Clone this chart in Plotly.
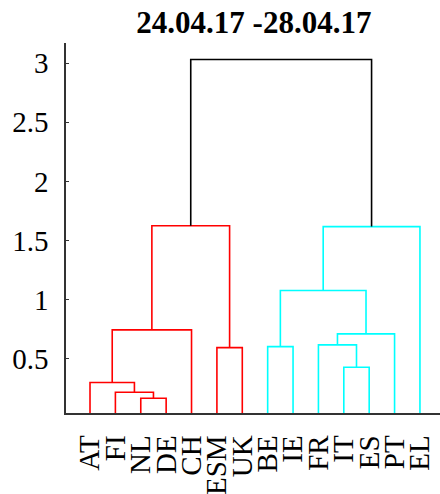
import plotly.graph_objects as go

# ---- data ----
labels = ["AT", "FI", "NL", "DE", "CH", "ESM", "UK", "BE", "IE", "FR", "IT", "ES", "PT", "EL"]
# merges: (left id, right id); leaves are 0..13, new clusters numbered 14, 15, ...
merge_left = [2, 1, 0, 16, 5, 17, 10, 7, 9, 22, 21, 24, 19]
merge_right = [3, 14, 15, 4, 6, 18, 11, 8, 20, 12, 23, 13, 25]
merge_height = [0.167, 0.217, 0.30, 0.745, 0.595, 1.625, 0.429, 0.603, 0.618, 0.711, 1.077, 1.618, 3.03]
merge_group = ["a", "a", "a", "a", "a", "a", "b", "b", "b", "b", "b", "b", "top"]
y_ticks = [0.5, 1, 1.5, 2, 2.5, 3]
y_tick_labels = ["0.5", "1", "1.5", "2", "2.5", "3"]
title_text = "24.04.17 -28.04.17"

group_colors = {"a": "#FF0000", "b": "#00FFFF", "top": "#000000"}

n = len(labels)
pos = {i: i + 1 for i in range(n)}
hgt = {i: 0.0 for i in range(n)}

fig = go.Figure()
for k, (l, r, h, g) in enumerate(zip(merge_left, merge_right, merge_height, merge_group)):
    cid = n + k
    xl, xr = pos[l], pos[r]
    fig.add_trace(go.Scatter(
        x=[xl, xl, xr, xr], y=[hgt[l], h, h, hgt[r]],
        mode="lines", line=dict(color=group_colors[g], width=1.6),
        hoverinfo="skip", showlegend=False,
    ))
    pos[cid] = (xl + xr) / 2
    hgt[cid] = h

font_family = "Liberation Serif, Times New Roman, serif"

fig.update_layout(
    width=440, height=494,
    margin=dict(l=66, r=0, t=43, b=81),
    paper_bgcolor="white", plot_bgcolor="white",
    font=dict(family=font_family, color="black"),
    title=dict(text="<b>" + title_text + "</b>", x=0.577, xanchor="center",
               y=0.955, yanchor="middle", font=dict(size=31, family=font_family, color="black")),
    xaxis=dict(
        range=[0.054, 14.79],
        tickmode="array", tickvals=list(range(1, n + 1)), ticktext=labels,
        tickangle=-90, tickfont=dict(size=29, family=font_family, color="black"),
        showgrid=False, zeroline=False,
        showline=True, linecolor="#333333", linewidth=1.6,
        ticks="", ticklabelstandoff=9,
    ),
    yaxis=dict(
        range=[0.042, 3.17],
        tickmode="array", tickvals=y_ticks, ticktext=y_tick_labels,
        tickfont=dict(size=29, family=font_family, color="black"),
        showgrid=False, zeroline=False,
        showline=True, linecolor="#333333", linewidth=1.6,
        ticks="inside", ticklen=3, tickcolor="#333333", ticklabelstandoff=10,
    ),
)

fig.write_html("out.html")
